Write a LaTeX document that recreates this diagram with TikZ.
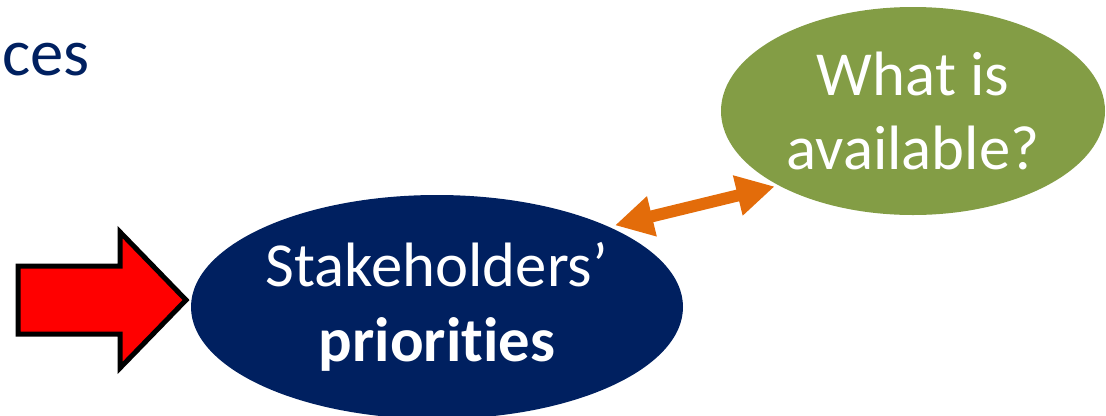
\documentclass[tikz,border=0pt]{standalone}
\usepackage{fontspec}
\setmainfont[Ligatures=NoCommon]{Carlito}
\usetikzlibrary{shapes.geometric,arrows.meta}
\definecolor{navyblue}{RGB}{0,32,96}
\definecolor{olivegreen}{RGB}{131,157,69}
\definecolor{darkorange}{RGB}{227,108,10}

\begin{document}
\begin{tikzpicture}[x=0.75pt,y=0.75pt,yscale=-1,xscale=1,
  bubble/.style={ellipse, inner sep=0pt, text=white, align=center, font=\fontsize{47}{56}\selectfont},
  link/.style={draw=darkorange, line width=9pt, {Triangle[length=28.5pt,width=29pt]}-{Triangle[length=28.5pt,width=29pt]}}]
%set diagram at 1106 x 415
\clip (0,0) rectangle (1106,415);

%Text: heading
\node (head) [anchor=base west, inner sep=0pt, text=navyblue, font=\fontsize{50}{60}\selectfont] at (2,75) {ces};

%Shape: Ellipse [priorities]
\node (prio) [bubble, fill=navyblue, minimum width=369pt, minimum height=168pt] at (437,307) {Stakeholders’\\\textbf{priorities}};
%Shape: Ellipse [available]
\node (avail) [bubble, fill=olivegreen, minimum width=288pt, minimum height=156pt] at (913,111) {What is\\available?};

%Shape: Right Arrow
\draw [fill=red, line width=3.75pt, miter limit=10] (18,266) -- (120,266) -- (120,232) -- (186,300) -- (120,368) -- (120,334) -- (18,334) -- cycle ;

%Straight Lines [double arrow]
\draw [link, shorten <=4.5pt, shorten >=3pt] (prio.25) -- (avail.209) ;

\end{tikzpicture}
\end{document}
